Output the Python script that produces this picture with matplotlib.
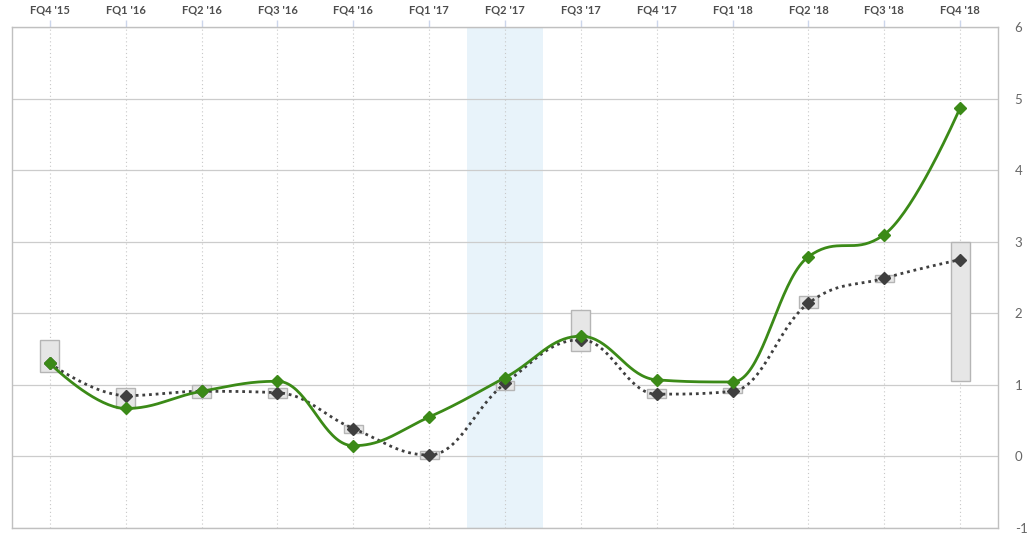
import numpy as np
import matplotlib.pyplot as plt
from matplotlib.patches import Rectangle

plt.rcParams['axes.unicode_minus'] = False

quarters = ["FQ4 '15", "FQ1 '16", "FQ2 '16", "FQ3 '16", "FQ4 '16", "FQ1 '17", "FQ2 '17",
            "FQ3 '17", "FQ4 '17", "FQ1 '18", "FQ2 '18", "FQ3 '18", "FQ4 '18"]
actual = [1.30, 0.67, 0.91, 1.05, 0.15, 0.55, 1.10, 1.68, 1.07, 1.04, 2.79, 3.10, 4.87]
estimate = [1.30, 0.85, 0.91, 0.89, 0.39, 0.02, 1.02, 1.63, 0.87, 0.91, 2.14, 2.49, 2.75]
est_low = [1.18, 0.68, 0.82, 0.82, 0.33, -0.03, 0.93, 1.48, 0.81, 0.88, 2.07, 2.44, 1.06]
est_high = [1.63, 0.95, 1.00, 0.95, 0.44, 0.08, 1.06, 2.04, 0.94, 0.96, 2.24, 2.54, 3.00]
highlight = "FQ2 '17"

GREEN = '#3b8a17'
DARK = '#3f3f3f'


def spline(xs, ys, smoothing=1.5, steps=40):
    # highcharts-style spline through the points
    n = len(xs)
    denom = smoothing + 1
    lc = [(xs[i], ys[i]) for i in range(n)]
    rc = [(xs[i], ys[i]) for i in range(n)]
    for i in range(1, n - 1):
        px, py = xs[i], ys[i]
        lx, ly = xs[i - 1], ys[i - 1]
        nx, ny = xs[i + 1], ys[i + 1]
        lcx = (smoothing * px + lx) / denom
        lcy = (smoothing * py + ly) / denom
        rcx = (smoothing * px + nx) / denom
        rcy = (smoothing * py + ny) / denom
        if rcx != lcx:
            corr = (rcy - lcy) * (rcx - px) / (rcx - lcx) + py - rcy
            lcy += corr
            rcy += corr
        if lcy > ly and lcy > py:
            lcy = max(ly, py)
            rcy = 2 * py - lcy
        elif lcy < ly and lcy < py:
            lcy = min(ly, py)
            rcy = 2 * py - lcy
        if rcy > ny and rcy > py:
            rcy = max(ny, py)
            lcy = 2 * py - rcy
        elif rcy < ny and rcy < py:
            rcy = min(ny, py)
            lcy = 2 * py - rcy
        lc[i] = (lcx, lcy)
        rc[i] = (rcx, rcy)
    t = np.linspace(0, 1, steps)
    out_x, out_y = [], []
    for i in range(1, n):
        p0 = (xs[i - 1], ys[i - 1])
        p1 = rc[i - 1]
        p2 = lc[i]
        p3 = (xs[i], ys[i])
        bx = (1 - t) ** 3 * p0[0] + 3 * (1 - t) ** 2 * t * p1[0] + 3 * (1 - t) * t ** 2 * p2[0] + t ** 3 * p3[0]
        by = (1 - t) ** 3 * p0[1] + 3 * (1 - t) ** 2 * t * p1[1] + 3 * (1 - t) * t ** 2 * p2[1] + t ** 3 * p3[1]
        out_x.extend(bx)
        out_y.extend(by)
    return np.array(out_x), np.array(out_y)


fig = plt.figure(figsize=(10.34, 5.39), dpi=100)
ax = fig.add_axes([12 / 1034, 11 / 539, 986 / 1034, 501 / 539])

x = np.arange(len(quarters))
hi = quarters.index(highlight)
ax.axvspan(hi - 0.5, hi + 0.5, color='#e8f3fa', zorder=0, lw=0)

for yv in range(-1, 7):
    ax.axhline(yv, color='#cccccc', lw=0.9, zorder=1)
for xv in x:
    ax.axvline(xv, color='#c8c8c8', lw=0.8, ls=(0, (1, 2.5)), zorder=1)

w = 0.25
for i in range(len(quarters)):
    ax.add_patch(Rectangle((x[i] - w / 2, est_low[i]), w, est_high[i] - est_low[i],
                           facecolor='#e6e6e6', edgecolor='#b5b5b5', lw=1, zorder=2))

sx, sy = spline(x, estimate)
ax.plot(sx, sy, color=DARK, lw=2, ls=(0, (1, 1.4)), zorder=3)
sx, sy = spline(x, actual)
ax.plot(sx, sy, color=GREEN, lw=2, zorder=4)
ax.plot(x, estimate, ls='none', marker='D', ms=6.5, color=DARK, zorder=5)
ax.plot(x, actual, ls='none', marker='D', ms=6, color=GREEN, zorder=6)

ax.set_xlim(-0.5, len(quarters) - 0.5)
ax.set_ylim(-1, 6)
ax.set_xticks(x)
ax.set_xticklabels(quarters, fontsize=8, fontweight='bold', color='#4d4d4d', family=['Lato', 'DejaVu Sans'])
ax.xaxis.tick_top()
ax.tick_params(axis='x', length=5, width=1, color='#ccd6eb', pad=3.5)
ax.yaxis.tick_right()
ax.set_yticks(range(-1, 7))
ax.tick_params(axis='y', length=0, pad=12, labelsize=9.5, labelcolor='#666666')
for lbl in ax.get_yticklabels():
    lbl.set_family(['Lato', 'DejaVu Sans'])
for s in ax.spines.values():
    s.set_color('#c0c0c0')
    s.set_linewidth(1)

fig.savefig('out.png', dpi=100)
